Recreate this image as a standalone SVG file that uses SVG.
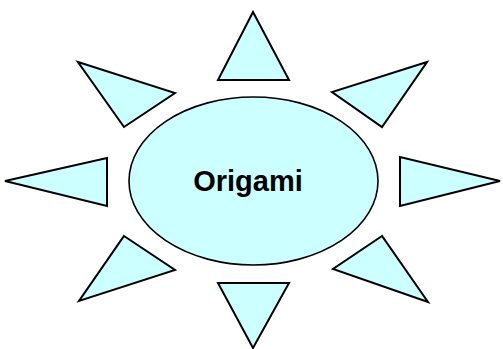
<svg xmlns="http://www.w3.org/2000/svg" width="503" height="349" viewBox="0 0 503 349">
<style>
.s{fill:#ccffff;stroke:#000;stroke-width:2;stroke-linejoin:miter}
.e{fill:#ccffff;stroke:#000;stroke-width:1.6}
.t{font-family:"Liberation Sans",Arial,sans-serif;font-weight:bold;font-size:29px;fill:#000}
</style>
<rect width="503" height="349" fill="#fff"/>
<g id="ray-top"><polygon class="s" points="253,12 218,80 289,80"/></g>
<g id="ray-upper-left"><polygon class="s" points="78,62 175,93 124,127"/></g>
<g id="ray-upper-right"><polygon class="s" points="427,62 332,92 382,127"/></g>
<g id="ray-left"><polygon class="s" points="5,181 107,158 107,206"/></g>
<g id="ray-right"><polygon class="s" points="400,157 400,206 500,181"/></g>
<g id="ray-lower-left"><polygon class="s" points="124,236 175,270 79,301"/></g>
<g id="ray-lower-right"><polygon class="s" points="382,236 333,269 428,302"/></g>
<g id="ray-bottom"><polygon class="s" points="218,283 289,283 253,348"/></g>
<g id="center"><ellipse class="e" cx="253.5" cy="181" rx="124.5" ry="84"/>
<text class="t" x="248" y="191" text-anchor="middle">Origami</text></g>
<g id="connectors"></g>
</svg>
